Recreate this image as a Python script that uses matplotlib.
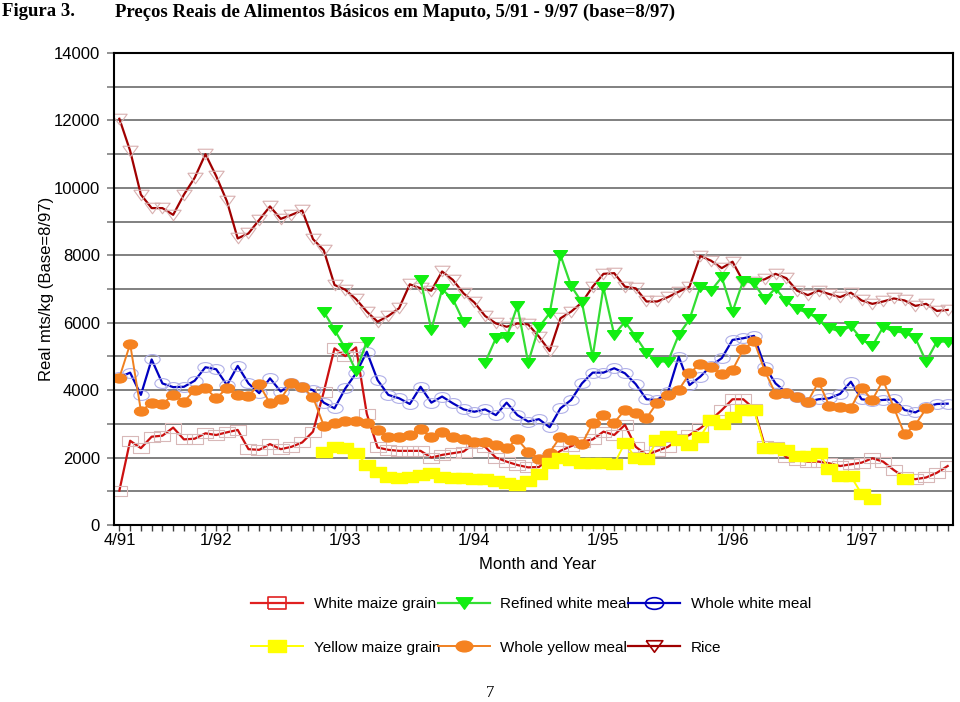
import numpy as np
import matplotlib
matplotlib.use('Agg')
import matplotlib.pyplot as plt
from matplotlib.path import Path
from matplotlib.lines import Line2D
from matplotlib.ticker import MultipleLocator

plt.rcParams['font.family'] = ['Liberation Sans', 'DejaVu Sans']

nan = np.nan

# months 4/91 .. 9/97 (78 points)
month_ticks = [0, 9, 21, 33, 45, 57, 69]
month_labels = ['4/91', '1/92', '1/93', '1/94', '1/95', '1/96', '1/97']

white_maize = [1020, 2500, 2280, 2620, 2650, 2890, 2540, 2560, 2720, 2670,
               2750, 2820, 2250, 2230, 2400, 2250, 2320, 2450, 2770, 3950,
               5240, 5010, 5270, 3300, 2300, 2230, 2200, 2200, 2200, 2000,
               2080, 2130, 2180, 2420, 2320, 2000, 1880, 1780, 1710, 1720,
               1980, 2200, 2340, 2470, 2540, 2770, 2670, 2970, 2320, 2080,
               2200, 2320, 2540, 2670, 2870, 3120, 3410, 3730, 3730, 3450,
               2350, 2300, 2010, 1930, 1880, 1880, 1830, 1750, 1800, 1850,
               1980, 1880, 1630, 1410, 1360, 1410, 1550, 1750]

refined_white = [nan] * 19 + [
    6330, 5790, 5240, 4570, 5440, nan, nan, nan, nan, 7270,
    5790, 6990, 6700, 6030, nan, 4820, 5540, 5570, 6500, 4820,
    5870, 6280, 8010, 7090, 6600, 4990, 7050, 5640, 6030, 5590,
    5110, 4850, 4850, 5640, 6100, 7070, 6950, 7350, 6330, 7250,
    7170, 6700, 7020, 6630, 6400, 6300, 6100, 5840, 5740, 5900,
    5510, 5310, 5870, 5740, 5710, 5540, 4850, 5440, 5440]

whole_white = [4380, 4520, 3860, 4910, 4200, 4090, 4100, 4280, 4680, 4620,
               4150, 4720, 4200, 3910, 4350, 3960, 4200, 4100, 4000, 3630,
               3460, 4050, 4500, 5140, 4300, 3860, 3760, 3590, 4100, 3630,
               3810, 3610, 3430, 3360, 3430, 3260, 3630, 3260, 3070, 3140,
               2900, 3460, 3710, 4200, 4520, 4520, 4650, 4500, 4180, 3730,
               3710, 3950, 4990, 4150, 4400, 4720, 4950, 5490, 5540, 5610,
               4700, 4200, 3930, 3810, 3660, 3730, 3760, 3890, 4250, 3730,
               3690, 3710, 3730, 3410, 3340, 3510, 3590, 3600]

yellow_maize = [nan] * 19 + [
    2180, 2320, 2270, 2150, 1780, 1580, 1430, 1380, 1430, 1480,
    1550, 1410, 1380, 1380, 1360, 1360, 1320, 1240, 1190, 1320,
    1510, 1830, 1980, 1930, 1830, 1830, 1850, 1810, 2440, 1980,
    1950, 2520, 2640, 2520, 2370, 2620, 3120, 3000, 3210, 3410,
    3410, 2280, 2280, 2230, 2050, 2050, 2150, 1650, 1450, 1450,
    920, 760, nan, nan, 1370, nan, nan, nan, nan]

whole_yellow = [4370, 5370, 3390, 3610, 3590, 3860, 3660, 4000, 4060, 3760,
                4060, 3860, 3830, 4170, 3610, 3740, 4220, 4100, 3790, 2950,
                3020, 3080, 3100, 3020, 2820, 2600, 2600, 2670, 2840, 2600,
                2770, 2600, 2540, 2470, 2450, 2370, 2280, 2540, 2180, 1950,
                2150, 2620, 2520, 2400, 3020, 3260, 3040, 3410, 3310, 3170,
                3630, 3860, 4000, 4500, 4780, 4680, 4480, 4600, 5210, 5460,
                4570, 3890, 3910, 3810, 3660, 4250, 3530, 3510, 3480, 4060,
                3710, 4300, 3480, 2690, 2970, 3460, nan, nan]

rice = [12050, 11100, 9800, 9400, 9400, 9200, 9800, 10300, 11000, 10350,
        9600, 8500, 8650, 9050, 9450, 9080, 9200, 9330, 8480, 8150,
        7120, 6980, 6700, 6330, 6030, 6200, 6430, 7140, 7020, 6950,
        7520, 7270, 6870, 6600, 6200, 5980, 5880, 5980, 5950, 5590,
        5160, 6130, 6330, 6600, 7070, 7450, 7470, 7070, 7020, 6630,
        6630, 6760, 6920, 7070, 7980, 7840, 7620, 7810, 7220, 7200,
        7290, 7450, 7320, 6950, 6820, 6950, 6850, 6760, 6890, 6660,
        6560, 6630, 6720, 6660, 6500, 6560, 6350, 6380]

x = np.arange(len(rice))


def wide(verts, sx):
    v = np.array(verts, dtype=float)
    v[:, 0] *= sx
    return Path(v)


sq = wide([(-1, -1), (1, -1), (1, 1), (-1, 1), (-1, -1)], 1.5)
tri = wide([(-1, 1), (1, 1), (0, -1), (-1, 1)], 1.45)
circ = Path.unit_circle()
ell = Path(circ.vertices * [1.55, 1.0], circ.codes)

fig = plt.figure(figsize=(9.6, 7.02), dpi=100)
ax = fig.add_axes([0.11875, 0.2521, 0.874, 0.6724])

ax.plot(x, white_maize, color='#cc1010', lw=1.6, marker=sq, ms=11.5,
        mfc='none', mec='#d8b8b8', mew=0.8, zorder=3)
ax.plot(x, rice, color='#a00000', lw=1.6, marker=tri, ms=11,
        mfc='none', mec='#d8b0b0', mew=0.8, zorder=3)
ax.plot(x, whole_white, color='#0000c0', lw=1.6, marker=ell, ms=11,
        mfc='none', mec='#b0b0e8', mew=0.8, zorder=4)
ax.plot(x, whole_yellow, color='#f08020', lw=1.4, marker=ell, ms=10,
        mfc='#f58220', mec='#f58220', zorder=5)
ax.plot(x, yellow_maize, color='#ffff00', lw=1.4, marker=sq, ms=11,
        mfc='#ffff00', mec='#ffff00', zorder=6)
ax.plot(x, refined_white, color='#33dd33', lw=1.6, marker=tri, ms=10,
        mfc='#11ee11', mec='#11ee11', zorder=7)

ax.set_xlim(-0.5, 77.5)
ax.set_ylim(0, 14000)
ax.set_xticks(month_ticks)
ax.set_xticklabels(month_labels)
ax.xaxis.set_minor_locator(MultipleLocator(1))
ax.yaxis.set_major_locator(MultipleLocator(2000))
ax.yaxis.set_minor_locator(MultipleLocator(1000))
ax.grid(True, axis='y', which='both', color='#808080', lw=1.4, zorder=1)
ax.tick_params(axis='y', which='both', direction='out', length=5,
               color='#808080', width=1.2, labelsize=12, pad=5)
ax.tick_params(axis='x', which='both', direction='out', length=4,
               color='#404040', width=1.0, labelsize=12, pad=2)
for s in ax.spines.values():
    s.set_linewidth(1.5)
    s.set_color('black')
    s.set_zorder(8)

ax.set_ylabel('Real mts/kg (Base=8/97)', fontsize=12)
ax.yaxis.set_label_coords(-0.072, 0.5)
ax.set_xlabel('Month and Year', fontsize=12)
ax.xaxis.set_label_coords(0.505, -0.068)

handles = [
    Line2D([], [], color='#e02020', lw=1.6, marker=sq, ms=13,
           mfc='none', mec='#e02020', mew=1.2),
    Line2D([], [], color='#ffff00', lw=1.4, marker=sq, ms=13,
           mfc='#ffff00', mec='#ffff00'),
    Line2D([], [], color='#33dd33', lw=1.6, marker=tri, ms=12,
           mfc='#11ee11', mec='#11ee11'),
    Line2D([], [], color='#f08020', lw=1.4, marker=ell, ms=12,
           mfc='#f58220', mec='#f58220'),
    Line2D([], [], color='#0000c0', lw=1.6, marker=ell, ms=13,
           mfc='none', mec='#0000c0', mew=1.2),
    Line2D([], [], color='#a00000', lw=1.6, marker=tri, ms=12,
           mfc='none', mec='#a00000', mew=1.2),
]
labels = ['White maize grain', 'Yellow maize grain', 'Refined white meal',
          'Whole yellow meal', 'Whole white meal', 'Rice']
fig.legend(handles, labels, ncol=3, loc='center',
           bbox_to_anchor=(0.553, 0.1085), frameon=False, fontsize=11,
           handlelength=3.4, handletextpad=0.7, columnspacing=-0.15,
           labelspacing=1.95)

fig.text(0.002, 0.983, 'Figura 3.', family='Liberation Serif',
         weight='bold', fontsize=13.5, va='center', ha='left')
fig.text(0.12, 0.983,
         'Preços Reais de Alimentos Básicos em Maputo, 5/91 - 9/97 (base=8/97)',
         family='Liberation Serif', weight='bold', fontsize=13.5,
         va='center', ha='left')
fig.text(490 / 960, 1 - 693 / 702, '7', family='Liberation Serif',
         fontsize=12, va='center', ha='center')

fig.savefig('out.png', dpi=100)
